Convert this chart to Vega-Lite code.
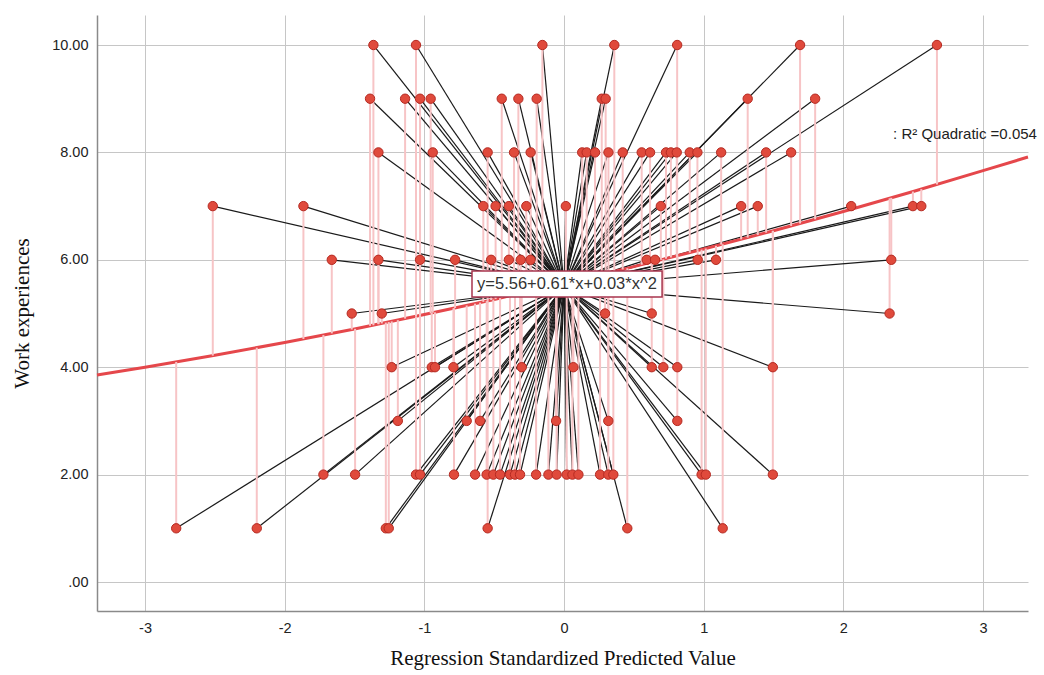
{
  "$schema": "https://vega.github.io/schema/vega-lite/v6.json",
  "width": 931,
  "height": 596,
  "autosize": {"type": "none"},
  "padding": {"left": 97, "top": 15, "right": 16, "bottom": 64},
  "background": "white",
  "config": {"view": {"stroke": null}},
  "datasets": {
    "points": [
      {"x": -1.365, "y": 10, "fit": 4.783}, {"x": -1.06, "y": 10, "fit": 4.947}, {"x": -0.155, "y": 10, "fit": 5.466}, {"x": 0.36, "y": 10, "fit": 5.784}, {"x": 0.81, "y": 10, "fit": 6.074}, {"x": 1.69, "y": 10, "fit": 6.677}, {"x": 2.67, "y": 10, "fit": 7.403},
      {"x": -1.389, "y": 9, "fit": 4.771}, {"x": -1.138, "y": 9, "fit": 4.905}, {"x": -1.031, "y": 9, "fit": 4.963}, {"x": -0.955, "y": 9, "fit": 5.004}, {"x": -0.446, "y": 9, "fit": 5.294}, {"x": -0.327, "y": 9, "fit": 5.364}, {"x": -0.196, "y": 9, "fit": 5.441}, {"x": 0.27, "y": 9, "fit": 5.727}, {"x": 0.298, "y": 9, "fit": 5.745}, {"x": 1.315, "y": 9, "fit": 6.414}, {"x": 1.798, "y": 9, "fit": 6.754},
      {"x": -1.329, "y": 8, "fit": 4.802}, {"x": -0.94, "y": 8, "fit": 5.014}, {"x": -0.547, "y": 8, "fit": 5.235}, {"x": -0.358, "y": 8, "fit": 5.346}, {"x": -0.239, "y": 8, "fit": 5.416}, {"x": 0.13, "y": 8, "fit": 5.639}, {"x": 0.162, "y": 8, "fit": 5.66}, {"x": 0.222, "y": 8, "fit": 5.696}, {"x": 0.318, "y": 8, "fit": 5.757}, {"x": 0.42, "y": 8, "fit": 5.821}, {"x": 0.556, "y": 8, "fit": 5.908}, {"x": 0.616, "y": 8, "fit": 5.947}, {"x": 0.73, "y": 8, "fit": 6.021}, {"x": 0.765, "y": 8, "fit": 6.044}, {"x": 0.807, "y": 8, "fit": 6.072}, {"x": 0.9, "y": 8, "fit": 6.133}, {"x": 0.955, "y": 8, "fit": 6.17}, {"x": 1.125, "y": 8, "fit": 6.284}, {"x": 1.447, "y": 8, "fit": 6.506}, {"x": 1.626, "y": 8, "fit": 6.631},
      {"x": -2.515, "y": 7, "fit": 4.216}, {"x": -1.866, "y": 7, "fit": 4.526}, {"x": -0.578, "y": 7, "fit": 5.217}, {"x": -0.49, "y": 7, "fit": 5.268}, {"x": -0.395, "y": 7, "fit": 5.324}, {"x": -0.27, "y": 7, "fit": 5.397}, {"x": 0.013, "y": 7, "fit": 5.568}, {"x": 0.693, "y": 7, "fit": 5.997}, {"x": 1.268, "y": 7, "fit": 6.381}, {"x": 1.387, "y": 7, "fit": 6.464}, {"x": 2.056, "y": 7, "fit": 6.941}, {"x": 2.498, "y": 7, "fit": 7.271}, {"x": 2.558, "y": 7, "fit": 7.316},
      {"x": -1.663, "y": 6, "fit": 4.629}, {"x": -1.329, "y": 6, "fit": 4.802}, {"x": -1.031, "y": 6, "fit": 4.963}, {"x": -0.78, "y": 6, "fit": 5.102}, {"x": -0.522, "y": 6, "fit": 5.25}, {"x": -0.395, "y": 6, "fit": 5.324}, {"x": -0.31, "y": 6, "fit": 5.374}, {"x": -0.24, "y": 6, "fit": 5.415}, {"x": 0.592, "y": 6, "fit": 5.932}, {"x": 0.652, "y": 6, "fit": 5.971}, {"x": 0.957, "y": 6, "fit": 6.171}, {"x": 1.088, "y": 6, "fit": 6.26}, {"x": 2.343, "y": 6, "fit": 7.154},
      {"x": -1.52, "y": 5, "fit": 4.702}, {"x": -1.305, "y": 5, "fit": 4.815}, {"x": 0.294, "y": 5, "fit": 5.742}, {"x": 0.628, "y": 5, "fit": 5.955}, {"x": 2.331, "y": 5, "fit": 7.145},
      {"x": -1.234, "y": 4, "fit": 4.853}, {"x": -0.947, "y": 4, "fit": 5.009}, {"x": -0.924, "y": 4, "fit": 5.022}, {"x": -0.792, "y": 4, "fit": 5.096}, {"x": -0.303, "y": 4, "fit": 5.378}, {"x": 0.067, "y": 4, "fit": 5.601}, {"x": 0.628, "y": 4, "fit": 5.955}, {"x": 0.711, "y": 4, "fit": 6.009}, {"x": 0.811, "y": 4, "fit": 6.075}, {"x": 1.495, "y": 4, "fit": 6.539},
      {"x": -1.19, "y": 3, "fit": 4.876}, {"x": -0.697, "y": 3, "fit": 5.15}, {"x": -0.601, "y": 3, "fit": 5.204}, {"x": -0.057, "y": 3, "fit": 5.525}, {"x": 0.317, "y": 3, "fit": 5.756}, {"x": 0.811, "y": 3, "fit": 6.075},
      {"x": -1.723, "y": 2, "fit": 4.598}, {"x": -1.496, "y": 2, "fit": 4.714}, {"x": -1.06, "y": 2, "fit": 4.947}, {"x": -1.031, "y": 2, "fit": 4.963}, {"x": -0.788, "y": 2, "fit": 5.098}, {"x": -0.637, "y": 2, "fit": 5.183}, {"x": -0.554, "y": 2, "fit": 5.231}, {"x": -0.506, "y": 2, "fit": 5.259}, {"x": -0.458, "y": 2, "fit": 5.287}, {"x": -0.387, "y": 2, "fit": 5.328}, {"x": -0.351, "y": 2, "fit": 5.35}, {"x": -0.315, "y": 2, "fit": 5.371}, {"x": -0.2, "y": 2, "fit": 5.439}, {"x": -0.112, "y": 2, "fit": 5.492}, {"x": -0.053, "y": 2, "fit": 5.528}, {"x": 0.019, "y": 2, "fit": 5.572}, {"x": 0.06, "y": 2, "fit": 5.597}, {"x": 0.103, "y": 2, "fit": 5.623}, {"x": 0.258, "y": 2, "fit": 5.719}, {"x": 0.317, "y": 2, "fit": 5.756}, {"x": 0.353, "y": 2, "fit": 5.779}, {"x": 0.985, "y": 2, "fit": 6.19}, {"x": 1.015, "y": 2, "fit": 6.21}, {"x": 1.495, "y": 2, "fit": 6.539},
      {"x": -2.777, "y": 1, "fit": 4.097}, {"x": -2.2, "y": 1, "fit": 4.363}, {"x": -1.276, "y": 1, "fit": 4.831}, {"x": -1.255, "y": 1, "fit": 4.841}, {"x": -0.547, "y": 1, "fit": 5.235}, {"x": 0.453, "y": 1, "fit": 5.842}, {"x": 1.136, "y": 1, "fit": 6.292}
    ],
    "curve": [
      {"x": -3.344, "y": 3.856}, {"x": -3.0, "y": 4.0}, {"x": -2.5, "y": 4.2225}, {"x": -2.0, "y": 4.46}, {"x": -1.5, "y": 4.7125}, {"x": -1.0, "y": 4.98}, {"x": -0.5, "y": 5.2625}, {"x": 0.0, "y": 5.56}, {"x": 0.5, "y": 5.8725}, {"x": 1.0, "y": 6.2}, {"x": 1.5, "y": 6.5425}, {"x": 2.0, "y": 6.9}, {"x": 2.5, "y": 7.2725}, {"x": 3.0, "y": 7.66}, {"x": 3.322, "y": 7.914}
    ],
    "eqbox": [
      {"x1": -0.659, "x2": 0.702, "y1": 5.79, "y2": 5.307, "xc": 0.021, "yc": 5.55, "label": "y=5.56+0.61*x+0.03*x^2"}
    ],
    "r2": [
      {"x": 2.356, "y": 8.34, "label": ": R² Quadratic =0.054"}
    ]
  },
  "layer": [
    {
      "data": {"name": "points"},
      "mark": {"type": "rule", "color": "#1a1a1a", "strokeWidth": 1.2},
      "encoding": {
        "x": {"field": "x", "type": "quantitative",
          "scale": {"domain": [-3.344, 3.322], "nice": false, "zero": false},
          "axis": {"values": [-3, -2, -1, 0, 1, 2, 3], "grid": true, "gridColor": "#c6c6c6", "gridWidth": 1,
            "domainColor": "#8a8a8a", "domainWidth": 1.5, "ticks": false,
            "labelExpr": "datum.value < 0 ? '-' + abs(datum.value) : '' + datum.value",
            "labelFont": "Liberation Sans", "labelFontSize": 14.5, "labelColor": "#222222", "labelPadding": 10,
            "title": "Regression Standardized Predicted Value", "titleFont": "Liberation Serif", "titleFontSize": 21,
            "titleFontWeight": "normal", "titleColor": "#111111", "titlePadding": 13}},
        "y": {"field": "y", "type": "quantitative",
          "scale": {"domain": [-0.54, 10.559], "nice": false, "zero": false},
          "axis": {"values": [0, 2, 4, 6, 8, 10], "grid": true, "gridColor": "#c6c6c6", "gridWidth": 1,
            "domainColor": "#8a8a8a", "domainWidth": 1.5, "ticks": false,
            "labelExpr": "datum.value == 0 ? '.00' : format(datum.value, '.2f')",
            "labelFont": "Liberation Sans", "labelFontSize": 14.5, "labelColor": "#222222", "labelPadding": 9,
            "title": "Work experiences", "titleFont": "Liberation Serif", "titleFontSize": 21,
            "titleFontWeight": "normal", "titleColor": "#111111", "titlePadding": 19}},
        "x2": {"datum": 0},
        "y2": {"datum": 5.5}
      }
    },
    {
      "data": {"name": "curve"},
      "mark": {"type": "line", "color": "#e5474b", "strokeWidth": 3, "interpolate": "monotone"},
      "encoding": {
        "x": {"field": "x", "type": "quantitative"},
        "y": {"field": "y", "type": "quantitative"}
      }
    },
    {
      "data": {"name": "points"},
      "mark": {"type": "rule", "color": "#f7c4c6", "strokeWidth": 2},
      "encoding": {
        "x": {"field": "x", "type": "quantitative"},
        "y": {"field": "y", "type": "quantitative"},
        "y2": {"field": "fit"}
      }
    },
    {
      "data": {"name": "points"},
      "mark": {"type": "point", "shape": "circle", "filled": true, "size": 88, "fill": "#e04a3c", "stroke": "#b52a22", "strokeWidth": 1, "opacity": 1},
      "encoding": {
        "x": {"field": "x", "type": "quantitative"},
        "y": {"field": "y", "type": "quantitative"}
      }
    },
    {
      "data": {"name": "eqbox"},
      "mark": {"type": "rect", "fill": "white", "stroke": "#a8344e", "strokeWidth": 1.5},
      "encoding": {
        "x": {"field": "x1", "type": "quantitative"},
        "x2": {"field": "x2"},
        "y": {"field": "y1", "type": "quantitative"},
        "y2": {"field": "y2"}
      }
    },
    {
      "data": {"name": "eqbox"},
      "mark": {"type": "text", "font": "Liberation Sans", "fontSize": 16.5, "color": "#333333", "align": "center", "baseline": "middle"},
      "encoding": {
        "x": {"field": "xc", "type": "quantitative"},
        "y": {"field": "yc", "type": "quantitative"},
        "text": {"field": "label"}
      }
    },
    {
      "data": {"name": "r2"},
      "mark": {"type": "text", "font": "Liberation Sans", "fontSize": 15, "color": "#222222", "align": "left", "baseline": "middle"},
      "encoding": {
        "x": {"field": "x", "type": "quantitative"},
        "y": {"field": "y", "type": "quantitative"},
        "text": {"field": "label"}
      }
    }
  ]
}
